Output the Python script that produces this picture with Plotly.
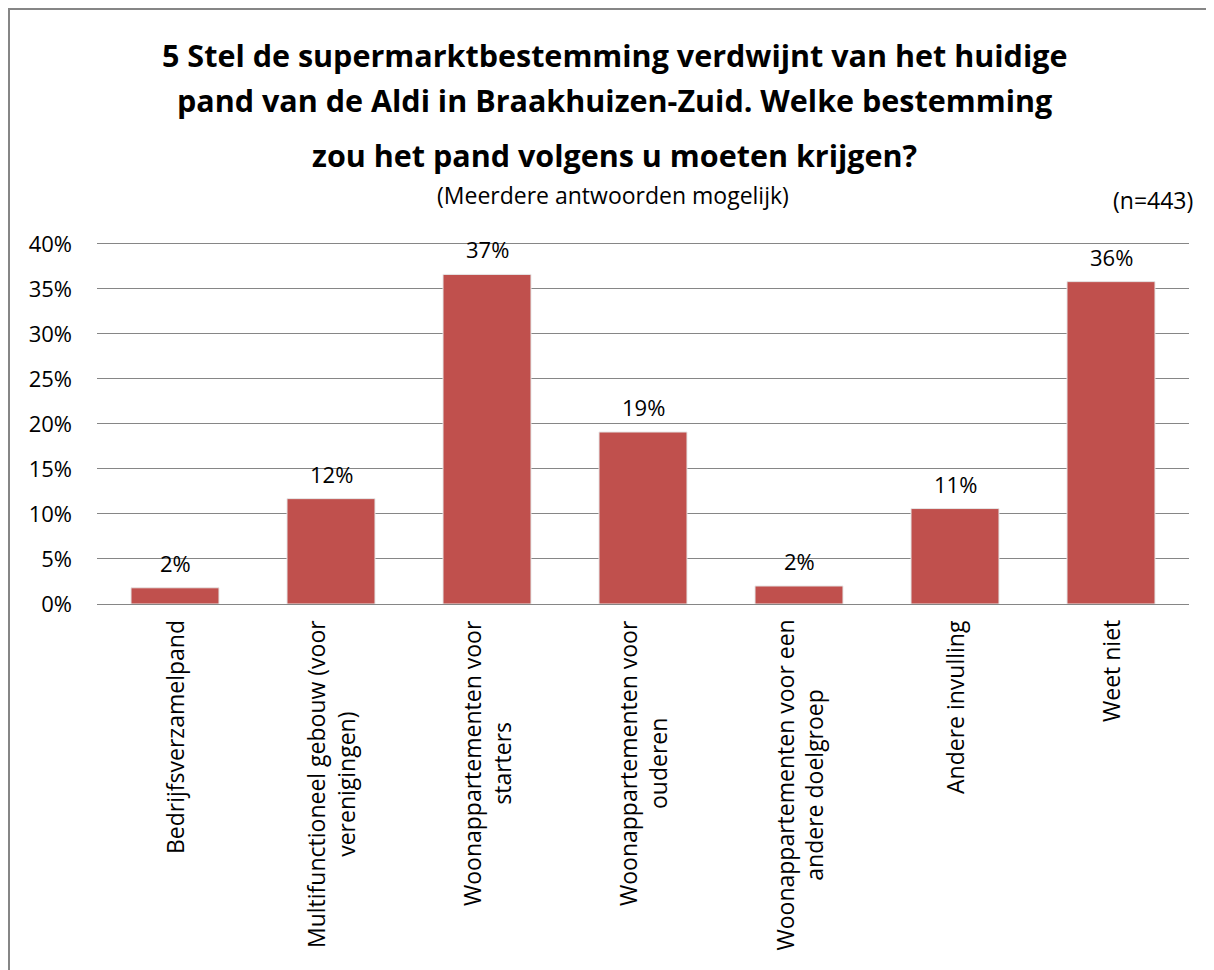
import plotly.graph_objects as go

# ---- data ----
categories = [
    "Bedrijfsverzamelpand",
    "Multifunctioneel gebouw (voor<br>verenigingen)",
    "Woonappartementen voor<br>starters",
    "Woonappartementen voor<br>ouderen",
    "Woonappartementen voor een<br>andere doelgroep",
    "Andere invulling",
    "Weet niet",
]
values = [1.8, 11.7, 36.6, 19.1, 2.0, 10.6, 35.8]
y_ticks = [0, 5, 10, 15, 20, 25, 30, 35, 40]
y_tick_labels = [f"{t}%" for t in y_ticks]
title_lines = [
    "5 Stel de supermarktbestemming verdwijnt van het huidige",
    "pand van de Aldi in Braakhuizen-Zuid. Welke bestemming",
    "zou het pand volgens u moeten krijgen?",
]
subtitle = "(Meerdere antwoorden mogelijk)"
n_label = "(n=443)"

# ---- layout geometry (pixels) ----
OFF = 8  # page body margin
W, H = 1214 - OFF, 970 - OFF
ZERO_Y = 604          # reference page y of the 0% line
L = 97 - OFF
PW, PH = 1092, 362
T = (ZERO_Y - OFF) - PH
R = W - L - PW
B = H - T - PH

def px_x(px):
    """reference page x -> paper coordinate"""
    return (px - OFF - L) / PW

def px_y(py):
    """reference page y -> paper coordinate"""
    return (ZERO_Y - py) / PH

FONT = "Open Sans"
BAR_COLOR = "#C0504D"
GRID = "#868686"

fig = go.Figure()
fig.add_trace(go.Bar(
    x=categories,
    y=values,
    marker=dict(color=BAR_COLOR, line=dict(color="#E6E6E6", width=1)),
    hoverinfo="skip",
))

annotations = []
# value labels
for c, v in zip(categories, values):
    annotations.append(dict(
        x=c, y=v, xref="x", yref="y", text=f"{round(v)}%", showarrow=False,
        yanchor="bottom", yshift=8, font=dict(family=FONT, size=22, color="black"),
    ))
# category labels (rotated, centered multi-line)
for c in categories:
    annotations.append(dict(
        x=c, y=0, xref="x", yref="y", text=c, showarrow=False,
        textangle=-90, align="center", yanchor="top", xanchor="center", yshift=-14,
        font=dict(family=FONT, size=23, color="black"),
    ))
# title lines
for line, py in zip(title_lines, [55, 100, 155]):
    annotations.append(dict(
        x=px_x(614), y=px_y(py), xref="paper", yref="paper", text=f"<b>{line}</b>",
        showarrow=False, xanchor="center", yanchor="middle",
        font=dict(family=FONT, size=30.5, color="black"),
    ))
annotations.append(dict(
    x=px_x(613), y=px_y(195), xref="paper", yref="paper", text=subtitle,
    showarrow=False, xanchor="center", yanchor="middle",
    font=dict(family=FONT, size=23, color="black"),
))
annotations.append(dict(
    x=px_x(1153), y=px_y(200), xref="paper", yref="paper", text=n_label,
    showarrow=False, xanchor="center", yanchor="middle",
    font=dict(family=FONT, size=23, color="black"),
))

shapes = [dict(
    type="rect", xref="paper", yref="paper",
    x0=px_x(9), y0=px_y(9), x1=px_x(1222), y1=px_y(985),
    line=dict(color=GRID, width=2), fillcolor="rgba(0,0,0,0)", layer="above",
)]

fig.update_layout(
    width=W, height=H,
    margin=dict(l=L, r=R, t=T, b=B, pad=0),
    paper_bgcolor="white", plot_bgcolor="white",
    showlegend=False,
    bargap=0.436,
    annotations=annotations,
    shapes=shapes,
    font=dict(family=FONT, color="black"),
)
fig.update_xaxes(
    showticklabels=False, showgrid=False, zeroline=False,
    showline=True, linecolor=GRID, linewidth=1, ticks="",
)
fig.update_yaxes(
    range=[0, 40.2], tickvals=y_ticks, ticktext=y_tick_labels,
    showgrid=True, gridcolor=GRID, gridwidth=1, zeroline=False,
    showline=False, ticks="", ticklabelstandoff=24,
    tickfont=dict(family=FONT, size=22, color="black"),
)

fig.write_html("out.html")
